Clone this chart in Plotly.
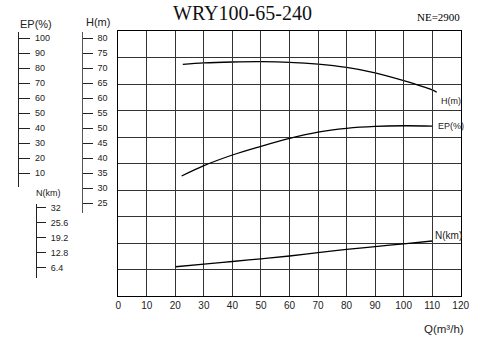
import plotly.graph_objects as go

W, H = 493, 353


def fx(p):
    return p / W


def fy(p):
    return (H - p) / H


# ---- data ----
q_head = [22.6, 30, 40, 50, 60, 70, 80, 90, 100, 110, 111.6]
head_m = [71.3, 71.8, 72.1, 72.2, 72.0, 71.4, 70.3, 68.5, 65.9, 62.8, 62.0]

q_eff = [22.2, 30, 40, 50, 60, 70, 80, 90, 100, 110]
eff_pct = [8.2, 15.1, 22.2, 28.0, 33.3, 37.5, 40.0, 41.3, 41.7, 41.5]

q_pow = [20.1, 30, 40, 50, 60, 70, 80, 90, 100, 110]
pow_kw = [6.8, 7.9, 9.05, 10.2, 11.4, 12.8, 14.2, 15.4, 16.6, 17.8]

x_ticks = list(range(0, 121, 10))
h_ticks = list(range(25, 81, 5))
ep_ticks = list(range(10, 101, 10))
n_ticks = [6.4, 12.8, 19.2, 25.6, 32]
n_ticktext = ["6.4", "12.8", "19.2", "25.6", "32"]

title_text = "WRY100-65-240"
speed_text = "NE=2900"

AX_FONT = dict(family="Liberation Sans, Arial, sans-serif", size=9, color="#222")
LINE = dict(color="black", width=1.3, shape="spline")

fig = go.Figure()
# empty trace so the main grid subplot (x, y) exists
fig.add_trace(go.Scatter(x=[], y=[], mode="lines", xaxis="x", yaxis="y",
                         hoverinfo="skip", showlegend=False))
fig.add_trace(go.Scatter(x=q_head, y=head_m, mode="lines", line=LINE,
                         xaxis="x", yaxis="y2", hoverinfo="skip", showlegend=False))
fig.add_trace(go.Scatter(x=q_eff, y=eff_pct, mode="lines", line=LINE,
                         xaxis="x", yaxis="y3", hoverinfo="skip", showlegend=False))
fig.add_trace(go.Scatter(x=q_pow, y=pow_kw, mode="lines", line=LINE,
                         xaxis="x", yaxis="y4", hoverinfo="skip", showlegend=False))

grid_col = "#333"

fig.update_layout(
    width=W, height=H,
    margin=dict(l=0, r=0, t=0, b=0, autoexpand=False),
    paper_bgcolor="white",
    plot_bgcolor="rgba(0,0,0,0)",
    showlegend=False,
    xaxis=dict(
        domain=[fx(118.3), fx(460.7)], range=[0, 120],
        tickvals=x_ticks, ticks="", showgrid=True, gridcolor=grid_col, gridwidth=1,
        showline=True, linecolor="black", linewidth=1, mirror=True,
        zeroline=False, tickfont=dict(family="Liberation Sans, Arial, sans-serif", size=10, color="#222"),
        ticklabelstandoff=0,
        anchor="y", fixedrange=True,
    ),
    yaxis=dict(
        domain=[fy(296), fy(31)], range=[0, 10], dtick=1,
        showticklabels=False, ticks="", showgrid=True, gridcolor=grid_col, gridwidth=1,
        showline=True, linecolor="black", linewidth=1, mirror=True,
        zeroline=False, anchor="x", fixedrange=True,
    ),
    yaxis2=dict(
        domain=[fy(213), fy(31.7)], range=[80 - (213 - 38.3) / 3, 80 + (38.3 - 31.7) / 3],
        anchor="free", position=fx(81.7), side="right",
        tickvals=h_ticks, ticks="outside", ticklen=10, tickcolor="#222",
        showline=True, linecolor="#555", linewidth=1, showgrid=False, zeroline=False,
        tickfont=AX_FONT, ticklabelstandoff=3, fixedrange=True,
    ),
    yaxis3=dict(
        domain=[fy(186.7), fy(31.7)], range=[100 - (186.7 - 38.3) / 1.5, 100 + (38.3 - 31.7) / 1.5],
        anchor="free", position=fx(18.3), side="right",
        tickvals=ep_ticks, ticks="outside", ticklen=11, tickcolor="#222",
        showline=True, linecolor="#222", linewidth=1, showgrid=False, zeroline=False,
        tickfont=AX_FONT, ticklabelstandoff=3, fixedrange=True,
    ),
    yaxis4=dict(
        domain=[fy(278), fy(204)], range=[32 - (278 - 207.7) / 2.344, 32 + (207.7 - 204) / 2.344],
        anchor="free", position=fx(36), side="right",
        tickvals=n_ticks, ticktext=n_ticktext, ticks="outside", ticklen=9, tickcolor="#222",
        showline=True, linecolor="#222", linewidth=1, showgrid=False, zeroline=False,
        tickfont=AX_FONT, ticklabelstandoff=3, fixedrange=True,
    ),
)

ann = []
ann.append(dict(text=title_text, x=fx(242), y=fy(13), xref="paper", yref="paper",
                xanchor="center", yanchor="middle", showarrow=False,
                font=dict(family="Liberation Serif, Times New Roman, serif", size=20, color="#111")))
ann.append(dict(text=speed_text, x=fx(462), y=fy(17), xref="paper", yref="paper",
                xanchor="right", yanchor="middle", showarrow=False,
                font=dict(family="Liberation Serif, Times New Roman, serif", size=11, color="black")))
sans = "Liberation Sans, Arial, sans-serif"
ann.append(dict(text="EP(%)", x=fx(35.5), y=fy(23.5), xref="paper", yref="paper",
                xanchor="center", yanchor="middle", showarrow=False,
                font=dict(family=sans, size=11, color="#222")))
ann.append(dict(text="H(m)", x=fx(98), y=fy(21.7), xref="paper", yref="paper",
                xanchor="center", yanchor="middle", showarrow=False,
                font=dict(family=sans, size=11, color="#222")))
ann.append(dict(text="N(km)", x=fx(48), y=fy(193), xref="paper", yref="paper",
                xanchor="center", yanchor="middle", showarrow=False,
                font=dict(family=sans, size=9, color="#222")))
ann.append(dict(text="Q(m³/h)", x=fx(443.5), y=fy(328.5), xref="paper", yref="paper",
                xanchor="center", yanchor="middle", showarrow=False,
                font=dict(family=sans, size=11.5, color="#222")))
narrow = "Liberation Sans Narrow, Arial Narrow, Liberation Sans, sans-serif"
ann.append(dict(text="H(m)", x=fx(439), y=fy(100.7), xref="paper", yref="paper",
                xanchor="left", yanchor="middle", showarrow=False,
                font=dict(family=narrow, size=9, color="#222")))
ann.append(dict(text="EP(%)", x=fx(435.7), y=fy(126), xref="paper", yref="paper",
                xanchor="left", yanchor="middle", showarrow=False,
                font=dict(family=narrow, size=9, color="#222")))
ann.append(dict(text="N(km)", x=fx(433), y=fy(235.7), xref="paper", yref="paper",
                xanchor="left", yanchor="middle", showarrow=False,
                font=dict(family=sans, size=10, color="#222")))
fig.update_layout(annotations=ann)

fig.write_html("out.html", config=dict(displayModeBar=False, staticPlot=True))
